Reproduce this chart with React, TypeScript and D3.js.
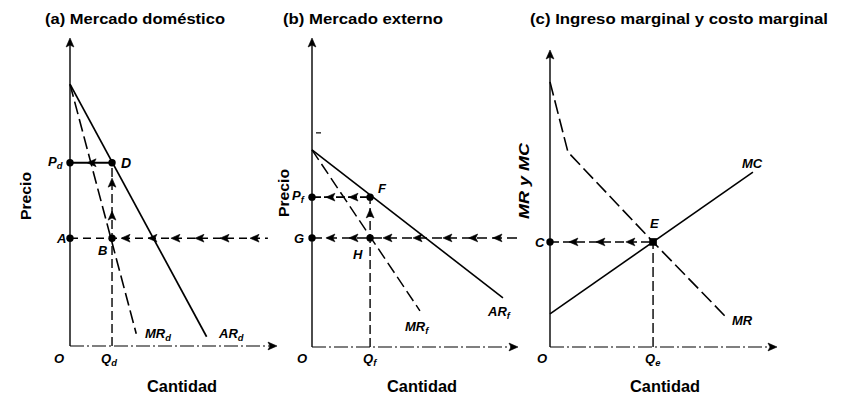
import React from 'react';
import * as d3 from 'd3';

const W = 847;
const H = 398;

type Pt = { q: number; p: number };

// (a) Mercado doméstico
const domesticAR: Pt[] = [{ q: 0, p: 85 }, { q: 66, p: 3 }];
const domesticMR: Pt[] = [{ q: 0, p: 85 }, { q: 32, p: 4 }];
const domesticEq: Pt = { q: 20.3, p: 59.5 };
const domesticMCLevel = 35;
const domesticLineEnd = 95.6;
const domesticLeftArrowsQ = [26.6, 39.6, 50.7, 62.3, 74.4, 88.9];
const domesticPriceArrowsQ = [9.7];
const domesticUpArrowsP = [53.2, 42.5];

// (b) Mercado externo
const foreignAR: Pt[] = [{ q: 0, p: 63.8 }, { q: 92.7, p: 15.9 }];
const foreignMR: Pt[] = [{ q: 0, p: 63.8 }, { q: 52.4, p: 11.7 }];
const foreignEq: Pt = { q: 28.2, p: 48.5 };
const foreignMCLevel = 35.3;
const foreignLineEnd = 100;
const foreignLeftArrowsQ = [8.7, 19.9, 36.4, 51, 65.5, 78, 89.8];
const foreignPriceArrowsQ = [8.7, 19.9];
const foreignUpArrowsP = [43.4];
const foreignTickP = 69.3;

// (c) Ingreso marginal y costo marginal
const combinedMR: Pt[] = [
  { q: 0, p: 85.8 },
  { q: 7.9, p: 63.1 },
  { q: 45.4, p: 34 },
  { q: 77.5, p: 9.7 },
];
const combinedMC: Pt[] = [{ q: 0, p: 10.7 }, { q: 89.4, p: 56.6 }];
const combinedEq: Pt = { q: 45.4, p: 34 };
const combinedLeftArrowsQ = [10.1, 22, 35.2];

const titles = [
  '(a) Mercado doméstico',
  '(b) Mercado externo',
  '(c) Ingreso marginal  y costo marginal',
];

const FONT = '"Liberation Sans", Arial, Helvetica, sans-serif';

type Frame = { x0: number; x1: number; y0: number; yTop: number; yAxisTop: number };

const frames: Frame[] = [
  { x0: 70, x1: 277, y0: 346, yTop: 38, yAxisTop: 38 },
  { x0: 312, x1: 518, y0: 347, yTop: 38, yAxisTop: 38 },
  { x0: 550, x1: 777, y0: 347, yTop: 38, yAxisTop: 50 },
];

const makeScales = (f: Frame) => ({
  x: d3.scaleLinear().domain([0, 100]).range([f.x0, f.x1]),
  y: d3.scaleLinear().domain([0, 100]).range([f.y0, f.yTop]),
});

// filled arrowhead with its tip at (x, y)
function Arrow({ x, y, dir }: { x: number; y: number; dir: 'left' | 'right' | 'up' }) {
  const len = 9;
  const hw = 3.9;
  let d = '';
  if (dir === 'left') d = `M${x},${y} L${x + len},${y - hw} L${x + len - 2},${y} L${x + len},${y + hw} Z`;
  if (dir === 'right') d = `M${x},${y} L${x - len},${y - hw} L${x - len + 2},${y} L${x - len},${y + hw} Z`;
  if (dir === 'up') d = `M${x},${y} L${x - hw},${y + len} L${x},${y + len - 2} L${x + hw},${y + len} Z`;
  return <path d={d} fill="#000" stroke="#000" strokeWidth={0.6} strokeLinejoin="round" />;
}

function Axes({ f }: { f: Frame }) {
  return (
    <g>
      <line x1={f.x0} y1={f.y0} x2={f.x0} y2={f.yAxisTop + 4} stroke="#000" strokeWidth={1.4} />
      <Arrow x={f.x0} y={f.yAxisTop} dir="up" />
      <line
        x1={f.x0}
        y1={f.y0}
        x2={f.x1 - 4}
        y2={f.y0}
        stroke="#000"
        strokeWidth={1.2}
        strokeDasharray="14,3,2,3"
      />
      <Arrow x={f.x1} y={f.y0} dir="right" />
    </g>
  );
}

function Lbl({
  x,
  y,
  main,
  sub,
  size = 13,
}: {
  x: number;
  y: number;
  main: string;
  sub?: string;
  size?: number;
}) {
  return (
    <text x={x} y={y} fontFamily={FONT} fontSize={size} fontStyle="italic" fontWeight="bold">
      {main}
      {sub ? (
        <tspan fontSize={size * 0.72} dy={3}>
          {sub}
        </tspan>
      ) : null}
    </text>
  );
}

function Dot({ x, y }: { x: number; y: number }) {
  return <circle cx={x} cy={y} r={3.7} fill="#000" />;
}

const lineGen = (sx: d3.ScaleLinear<number, number>, sy: d3.ScaleLinear<number, number>) =>
  d3
    .line<Pt>()
    .x((d) => sx(d.q))
    .y((d) => sy(d.p));

function PanelA() {
  const f = frames[0];
  const { x, y } = makeScales(f);
  const line = lineGen(x, y);
  const xq = x(domesticEq.q);
  const yp = y(domesticEq.p);
  const ym = y(domesticMCLevel);
  return (
    <g>
      <Axes f={f} />
      <path d={line(domesticAR)!} fill="none" stroke="#000" strokeWidth={1.7} />
      <path d={line(domesticMR)!} fill="none" stroke="#000" strokeWidth={1.6} strokeDasharray="13,5" />
      {/* price line from D back to the axis */}
      <line x1={f.x0} y1={yp} x2={xq} y2={yp} stroke="#000" strokeWidth={1.8} />
      {domesticPriceArrowsQ.map((q, i) => (
        <Arrow key={i} x={x(q) - 3} y={yp} dir="left" />
      ))}
      {/* marginal cost level */}
      <line x1={f.x0} y1={ym} x2={x(domesticLineEnd)} y2={ym} stroke="#000" strokeWidth={1.4} strokeDasharray="8,5" />
      {domesticLeftArrowsQ.map((q, i) => (
        <Arrow key={i} x={x(q) - 4} y={ym} dir="left" />
      ))}
      {/* quantity line */}
      <line x1={xq} y1={f.y0} x2={xq} y2={yp} stroke="#000" strokeWidth={1.4} strokeDasharray="9,4" />
      {domesticUpArrowsP.map((p, i) => (
        <Arrow key={i} x={xq} y={y(p) - 4} dir="up" />
      ))}
      <Dot x={f.x0} y={yp} />
      <Dot x={xq} y={yp} />
      <Dot x={f.x0} y={ym} />
      <Dot x={xq} y={ym} />
      <Lbl x={f.x0 - 22} y={yp + 3} main="P" sub="d" />
      <Lbl x={xq + 9} y={yp + 5} main="D" size={14} />
      <Lbl x={f.x0 - 13} y={ym + 5} main="A" />
      <Lbl x={xq - 14} y={ym + 17} main="B" />
      <Lbl x={145} y={338} main="MR" sub="d" />
      <Lbl x={219} y={338} main="AR" sub="d" />
      <Lbl x={f.x0 - 16} y={363} main="O" />
      <Lbl x={xq - 11} y={363} main="Q" sub="d" />
    </g>
  );
}

function PanelB() {
  const f = frames[1];
  const { x, y } = makeScales(f);
  const line = lineGen(x, y);
  const xq = x(foreignEq.q);
  const yp = y(foreignEq.p);
  const ym = y(foreignMCLevel);
  return (
    <g>
      <Axes f={f} />
      <line x1={f.x0 + 4} y1={y(foreignTickP)} x2={f.x0 + 9} y2={y(foreignTickP)} stroke="#000" strokeWidth={1.2} />
      <path d={line(foreignAR)!} fill="none" stroke="#000" strokeWidth={1.6} />
      <path d={line(foreignMR)!} fill="none" stroke="#000" strokeWidth={1.5} strokeDasharray="12,5" />
      <line x1={f.x0} y1={yp} x2={xq} y2={yp} stroke="#000" strokeWidth={1.6} strokeDasharray="9,3" />
      {foreignPriceArrowsQ.map((q, i) => (
        <Arrow key={i} x={x(q) - 4} y={yp} dir="left" />
      ))}
      <line x1={f.x0} y1={ym} x2={x(foreignLineEnd)} y2={ym} stroke="#000" strokeWidth={1.5} strokeDasharray="10,5" />
      {foreignLeftArrowsQ.map((q, i) => (
        <Arrow key={i} x={x(q) - 4} y={ym} dir="left" />
      ))}
      <line x1={xq} y1={f.y0} x2={xq} y2={yp} stroke="#000" strokeWidth={1.4} strokeDasharray="9,4" />
      {foreignUpArrowsP.map((p, i) => (
        <Arrow key={i} x={xq} y={y(p) - 4} dir="up" />
      ))}
      <Dot x={f.x0} y={yp} />
      <Dot x={xq} y={yp} />
      <Dot x={f.x0} y={ym} />
      <Dot x={xq} y={ym} />
      <Lbl x={f.x0 - 20} y={yp + 3} main="P" sub="f" />
      <Lbl x={xq + 8} y={yp - 4} main="F" />
      <Lbl x={f.x0 - 18} y={ym + 5} main="G" />
      <Lbl x={xq - 17} y={ym + 21} main="H" />
      <Lbl x={405} y={331} main="MR" sub="f" />
      <Lbl x={488} y={316} main="AR" sub="f" />
      <Lbl x={f.x0 - 15} y={363} main="O" />
      <Lbl x={xq - 7} y={363} main="Q" sub="f" />
    </g>
  );
}

function PanelC() {
  const f = frames[2];
  const { x, y } = makeScales(f);
  const line = lineGen(x, y);
  const xq = x(combinedEq.q);
  const ym = y(combinedEq.p);
  return (
    <g>
      <Axes f={f} />
      <path d={line(combinedMC)!} fill="none" stroke="#000" strokeWidth={1.6} />
      <path d={line(combinedMR)!} fill="none" stroke="#000" strokeWidth={1.6} strokeDasharray="14,5" />
      <line x1={f.x0} y1={ym} x2={xq} y2={ym} stroke="#000" strokeWidth={1.5} strokeDasharray="9,4" />
      {combinedLeftArrowsQ.map((q, i) => (
        <Arrow key={i} x={x(q) - 4} y={ym} dir="left" />
      ))}
      <line x1={xq} y1={f.y0} x2={xq} y2={ym} stroke="#000" strokeWidth={1.4} strokeDasharray="10,4" />
      <Dot x={f.x0} y={ym} />
      <rect x={xq - 3.8} y={ym - 3.8} width={7.6} height={7.6} fill="#000" />
      <Lbl x={f.x0 - 15} y={ym + 5} main="C" />
      <Lbl x={xq - 3} y={ym - 14} main="E" />
      <Lbl x={742} y={168} main="MC" />
      <Lbl x={732} y={325} main="MR" />
      <Lbl x={f.x0 - 13} y={363} main="O" />
      <Lbl x={xq - 8} y={363} main="Q" sub="e" />
    </g>
  );
}

export default function App() {
  const titleX = [45, 283, 530];
  const titleW = [180, 160, 298];
  const cantidadX = [182, 422, 665];
  return (
    <svg
      width={W}
      height={H}
      viewBox={`0 0 ${W} ${H}`}
      style={{ position: 'absolute', left: 0, top: 0, background: '#fff' }}
    >
      <rect width={W} height={H} fill="#fff" />
      {titles.map((t, i) => (
        <text
          key={t}
          x={titleX[i]}
          y={24}
          fontFamily={FONT}
          fontSize={15}
          fontWeight="bold"
          textLength={titleW[i]}
          lengthAdjust="spacingAndGlyphs"
        >
          {t}
        </text>
      ))}
      {cantidadX.map((cx, i) => (
        <text
          key={i}
          x={cx}
          y={392}
          textAnchor="middle"
          fontFamily={FONT}
          fontSize={16}
          fontWeight="bold"
          textLength={70}
          lengthAdjust="spacingAndGlyphs"
        >
          Cantidad
        </text>
      ))}
      <text
        transform="translate(31,196) rotate(-90)"
        textAnchor="middle"
        fontFamily={FONT}
        fontSize={15}
        fontWeight="bold"
        textLength={48}
        lengthAdjust="spacingAndGlyphs"
      >
        Precio
      </text>
      <text
        transform="translate(289,193) rotate(-90)"
        textAnchor="middle"
        fontFamily={FONT}
        fontSize={15}
        fontWeight="bold"
        textLength={48}
        lengthAdjust="spacingAndGlyphs"
      >
        Precio
      </text>
      <text
        transform="translate(529,181) rotate(-90)"
        textAnchor="middle"
        fontFamily={FONT}
        fontSize={15}
        fontWeight="bold"
        fontStyle="italic"
        textLength={76}
        lengthAdjust="spacingAndGlyphs"
      >
        MR y MC
      </text>
      <PanelA />
      <PanelB />
      <PanelC />
    </svg>
  );
}
